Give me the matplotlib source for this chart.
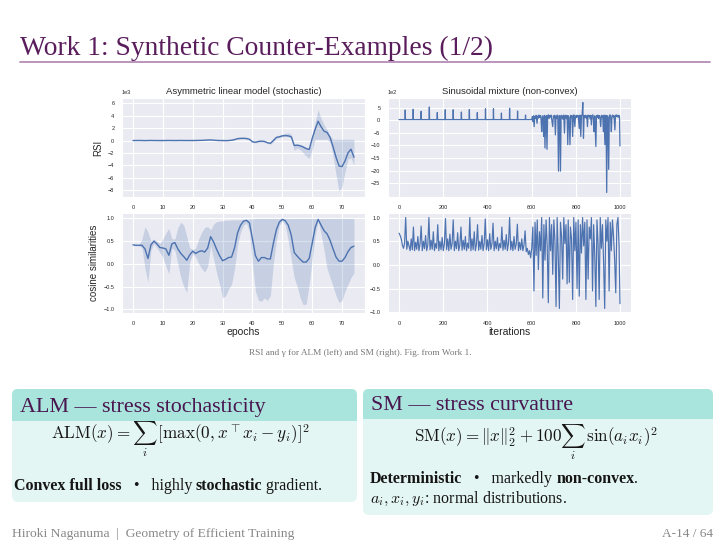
import numpy as np
import matplotlib
matplotlib.use("Agg")
import matplotlib.pyplot as plt
from matplotlib.patches import FancyBboxPatch, Rectangle
import seaborn as sns

# ---- values ----
epochs = list(range(75))

# ALM, RSI (units of 1e3)
rsi_mean = [0.00, 0.00, 0.01, 0.00, -0.01, 0.00, 0.01, 0.00, 0.00, -0.01,
            0.00, 0.00, 0.01, 0.00, 0.00, 0.00, 0.01, 0.00, 0.00, 0.00,
            0.00, 0.01, 0.02, 0.03, 0.05, 0.08, 0.10, 0.05, 0.02, 0.00,
            0.00, -0.02, 0.00, 0.05, 0.15, 0.30, 0.35, 0.36, 0.33, 0.20,
            -0.20, -0.28, -0.15, -0.10, -0.15, -0.35, -0.45, 0.00, 0.50, 0.60,
            0.75, 0.80, 0.75, 0.60, -0.80, -0.75, -0.85, -1.05, -1.30, -1.45,
            0.30, 1.80, 3.10, 2.20, 1.50, 1.30, 0.50, -1.00, -2.70, -4.10,
            -4.20, -3.30, -2.00, -1.40, -2.70]
rsi_upper = [0.05, 0.05, 0.06, 0.05, 0.04, 0.05, 0.06, 0.05, 0.05, 0.04,
             0.05, 0.05, 0.06, 0.05, 0.05, 0.05, 0.06, 0.05, 0.05, 0.05,
             0.05, 0.06, 0.07, 0.08, 0.10, 0.13, 0.16, 0.10, 0.07, 0.05,
             0.05, 0.04, 0.06, 0.12, 0.25, 0.42, 0.48, 0.48, 0.45, 0.30,
             -0.10, -0.18, -0.05, 0.00, -0.05, -0.25, -0.30, 0.20, 0.70, 0.85,
             1.00, 1.15, 1.25, 1.00, -0.60, -0.55, -0.65, -0.85, -1.10, -1.20,
             1.00, 3.00, 5.00, 3.50, 2.50, 1.80, 0.80, 0.20, 0.20, 0.20,
             0.20, 0.20, 0.20, 0.20, 0.20]
rsi_lower = [-0.05, -0.05, -0.04, -0.05, -0.06, -0.05, -0.04, -0.05, -0.05, -0.06,
             -0.05, -0.05, -0.04, -0.05, -0.05, -0.05, -0.04, -0.05, -0.05, -0.05,
             -0.05, -0.04, -0.03, -0.02, 0.00, 0.03, 0.04, 0.00, -0.03, -0.05,
             -0.05, -0.07, -0.05, 0.00, 0.08, 0.20, 0.25, 0.25, 0.22, 0.10,
             -0.30, -0.38, -0.25, -0.20, -0.25, -0.45, -0.60, -0.20, 0.35, 0.45,
             0.60, 0.65, 0.60, 0.40, -1.60, -1.20, -1.50, -2.00, -2.50, -2.90,
             -1.50, 0.20, 0.20, 0.20, 0.20, 0.20, -0.30, -2.50, -5.50, -8.20,
             -7.50, -5.00, -3.00, -2.80, -4.00]

# ALM, cosine similarities
cos_mean = [0.42, 0.41, 0.41, 0.41, 0.33, 0.12, 0.42, 0.50, 0.44, 0.36,
            0.35, 0.33, 0.19, 0.44, 0.47, 0.33, 0.23, 0.16, 0.08, 0.20,
            0.28, 0.23, 0.27, 0.29, 0.26, 0.35, 0.60, 0.48, 0.32, 0.18,
            0.07, 0.10, 0.14, 0.15, 0.35, 0.68, 0.85, 0.94, 0.96, 0.90,
            0.55, 0.18, 0.06, 0.14, 0.14, 0.11, 0.11, 0.45, 0.75, 0.92,
            0.98, 0.95, 0.85, 0.63, 0.25, 0.17, 0.10, 0.04, 0.04, 0.12,
            0.45, 0.80, 0.98, 0.85, 0.73, 0.66, 0.52, 0.33, 0.15, 0.06,
            0.06, 0.14, 0.27, 0.36, 0.39]
cos_upper = [0.43, 0.42, 0.42, 0.55, 0.82, 0.70, 0.50, 0.55, 0.50, 0.45,
             0.55, 0.68, 0.78, 0.55, 0.55, 0.80, 0.92, 0.85, 0.60, 0.35,
             0.32, 0.35, 0.55, 0.70, 0.80, 0.82, 0.75, 0.88, 0.93, 0.94,
             0.95, 0.96, 0.96, 0.97, 0.97, 0.97, 0.97, 0.98, 0.98, 0.99,
             0.99, 1.00, 1.00, 1.00, 1.00, 1.00, 1.00, 1.00, 1.00, 1.00,
             1.00, 1.00, 1.00, 1.00, 1.00, 1.00, 1.00, 1.00, 1.00, 1.00,
             1.00, 1.00, 1.00, 1.00, 1.00, 1.00, 1.00, 1.00, 1.00, 1.00,
             1.00, 1.00, 1.00, 1.00, 1.00]
cos_lower = [0.40, 0.40, 0.40, 0.35, -0.10, -0.40, 0.30, 0.45, 0.35, 0.25,
             0.15, -0.05, -0.22, 0.35, 0.30, 0.00, -0.30, -0.50, -0.63, 0.05,
             0.22, 0.15, 0.00, -0.10, -0.18, -0.05, 0.40, 0.10, -0.20, -0.45,
             -0.75, -0.70, -0.55, -0.45, -0.10, 0.40, 0.70, 0.85, 0.90, 0.70,
             0.00, -0.60, -0.80, -0.82, -0.75, -0.80, -0.70, 0.00, 0.50, 0.85,
             0.95, 0.85, 0.50, 0.10, -0.30, -0.50, -0.75, -0.90, -0.88, -0.45,
             0.10, 0.60, 0.95, 0.65, 0.30, -0.10, -0.30, -0.50, -0.70, -0.85,
             -0.80, -0.60, -0.45, -0.30, -0.20]

# SM, RSI (units of 1e2): flat part with periodic spikes, then noisy part
sm_base = 0.3
spike_iter = [28, 64, 100, 137, 173, 209, 245, 282, 318, 354, 391, 427, 463, 500, 536, 572]
spike_val = [4.1, 4.4, 3.6, 5.3, 3.1, 4.2, 4.2, 3.3, 4.3, 3.1, 4.6, 4.6, 2.9, 4.8, 3.7, 2.1]
noisy_iter = [600, 603, 606, 608, 611, 614, 617, 620, 624, 627, 630, 633, 636, 639, 642, 645,
              648, 651, 654, 657, 660, 663, 666, 669, 672, 675, 678, 681, 684, 687, 690, 695,
              698, 701, 704, 707, 710, 713, 716, 718, 721, 724, 727, 730, 733, 736, 739, 742,
              745, 748, 751, 754, 757, 760, 763, 766, 769, 773, 776, 779, 782, 785, 788, 791,
              795, 798, 801, 804, 807, 810, 815, 818, 822, 825, 828, 831, 834, 837, 840, 843,
              846, 849, 852, 855, 858, 861, 864, 867, 870, 873, 876, 879, 882, 885, 890, 893,
              896, 899, 902, 905, 908, 912, 915, 918, 921, 924, 927, 931, 934, 936, 939, 942,
              945, 948, 951, 954, 957, 960, 963, 966, 969, 972, 976, 979, 982, 985, 988, 991,
              994, 997, 999]
noisy_val = [0.3, 1.5, -0.5, 1.8, -2.5, 1.6, 0.8, 2.0, -1.2, 1.7, 0.9, 2.1, 1.2, 1.9, 0.5, -4.5,
             1.8, 1.0, -6.4, 2.0, -11.0, 1.5, 1.9, -11.5, 1.6, 2.2, 0.8, 1.9, 1.3, 2.1, 0.6, -2.5,
             1.8, 1.2, 2.0, -5.8, 1.7, 0.9, 2.1, 1.0, -20.2, 1.9, 1.5, -20.2, 2.0, 1.1, 1.8, 0.4,
             2.1, -5.1, 1.6, 2.0, 0.7, 1.9, -9.7, 1.8, 1.2, -9.7, 2.0, 1.4, 1.9, -6.4, 1.7, 2.2,
             -2.5, 1.8, 1.1, 2.0, 1.4, 1.9, -3.2, 2.1, -6.4, 1.7, 2.3, 7.1, -7.1, 1.9, 1.3, 2.0,
             0.9, 1.8, -2.5, 2.1, 1.5, 1.9, 0.6, 2.0, -1.8, 1.7, 2.2, 1.0, -4.5, 1.8, -10.4, 1.9,
             1.2, 2.1, 0.8, 1.9, 1.4, -2.5, 2.0, 1.3, 1.8, -4.5, 2.1, -9.7, 1.6, 2.0, -28.7, 1.8,
             1.1, -19.5, 1.9, 2.2, 1.0, -4.5, 1.8, 2.1, 1.3, 1.9, -3.8, 1.7, 2.2, 1.5, 2.0, 1.2,
             2.0, 1.5, -10.2]

# SM, cosine similarities, every 5 iterations (last point at 999)
sm_cos_iter = list(range(0, 1000, 5)) + [999]
sm_cos_val = [0.67, 0.62, 0.55, 0.42, 0.35, 0.45, 1.00, 0.33, 0.50, 0.40,
              0.30, 0.55, 0.32, 0.80, 0.30, 0.48, 0.33, 0.60, 0.30, 0.45,
              0.82, 0.30, 0.50, 0.34, 0.62, 0.30, 0.42, 1.00, 0.32, 0.52,
              0.33, 0.70, 0.30, 0.45, 0.35, 0.85, 0.30, 0.50, 0.32, 0.58,
              0.30, 0.44, 0.98, 0.32, 0.55, 0.30, 0.65, 0.33, 0.45, 0.95,
              0.30, 0.50, 0.34, 0.68, 0.30, 0.42, 0.80, 0.31, 0.52, 0.33,
              0.60, 0.30, 0.46, 0.35, 1.00, 0.30, 0.55, 0.32, 0.70, 0.30,
              0.44, 0.85, 0.31, 0.50, 0.33, 0.62, 0.30, 0.45, 0.97, 0.32,
              0.53, 0.30, 0.66, 0.33, 0.44, 0.88, 0.30, 0.50, 0.34, 0.58,
              0.30, 0.45, 0.36, 0.80, 0.31, 0.52, 0.33, 0.64, 0.30, 0.46,
              1.00, 0.32, 0.50, 0.30, 0.60, 0.33, 0.44, 0.86, 0.30, 0.48,
              0.32, 0.55, 0.30, 0.42, 0.72, 0.28, 0.35, 0.22, 0.30, 0.15,
              0.35, 0.80, -0.55, 0.90, 0.20, 0.95, -0.10, 0.70, 0.30, 1.00,
              -0.70, 0.85, 0.10, 0.95, 0.40, -0.80, 1.00, 0.30, 0.85, -0.20,
              0.95, 0.50, -0.88, 1.00, 0.20, -0.92, 0.90, 0.60, -0.30, 1.00,
              0.45, 0.85, -0.40, 0.95, -0.37, 0.80, 0.55, -0.73, 1.00, 0.30,
              0.90, -0.50, 0.95, -0.66, 0.85, 0.25, 1.00, 0.40, 0.90, -0.73,
              0.95, -0.30, 0.80, 0.55, 1.00, -0.55, 0.85, 0.20, -0.88, 0.95,
              0.45, -0.73, 1.00, 0.35, 0.85, 0.05, -0.92, 0.95, 0.50, 1.00,
              -0.55, 0.90, 0.30, 0.95, 0.60, 0.10, -0.59, 0.85, 1.00, 0.40,
              -0.82]

# build the SM RSI polyline from the flat part, spikes and noisy part
sm_rsi_iter = [0]
sm_rsi_val = [sm_base]
for p, h in zip(spike_iter, spike_val):
    sm_rsi_iter += [p - 1, p, p + 1]
    sm_rsi_val += [sm_base, h, sm_base]
sm_rsi_iter += noisy_iter
sm_rsi_val += noisy_val

# ---- style ----
sns.set_style("darkgrid")
plt.rcParams["font.family"] = ["Liberation Sans", "DejaVu Sans"]
plt.rcParams["mathtext.fontset"] = "cm"
SERIF = ["Liberation Serif", "DejaVu Serif"]
BLUE = "#4C72B0"
PURPLE = "#5a1d5c"

W, H = 726, 544
fig = plt.figure(figsize=(W / 100, H / 100), dpi=100)
fig.patch.set_facecolor("white")


def rect(x0, y0, x1, y1):
    return [x0 / W, 1 - y1 / H, (x1 - x0) / W, (y1 - y0) / H]


# slide background layer in pixel units
bg = fig.add_axes([0, 0, 1, 1], zorder=-1)
bg.set_xlim(0, W)
bg.set_ylim(H, 0)
bg.axis("off")

bg.text(20, 55, "Work 1: Synthetic Counter-Examples (1/2)", fontsize=19.8,
        color=PURPLE, family=SERIF, va="baseline")
bg.plot([20, 710], [62, 62], color="#b48cb8", lw=1.3)

# ---- the four panels ----
ax1 = fig.add_axes(rect(122, 98, 365, 197))
ax2 = fig.add_axes(rect(388, 98, 631, 197))
ax3 = fig.add_axes(rect(122, 213, 365, 313))
ax4 = fig.add_axes(rect(388, 213, 631, 313))

ax1.fill_between(epochs, np.array(rsi_lower) * 1e3, np.array(rsi_upper) * 1e3,
                 color=BLUE, alpha=0.22, lw=0)
ax1.plot(epochs, np.array(rsi_mean) * 1e3, color=BLUE, lw=1.0)
ax1.set_ylim(-9100, 6850)
ax1.set_yticks(np.arange(-8000, 6001, 2000))
ax1.set_title("Asymmetric linear model (stochastic)", fontsize=6.8, pad=3)
ax1.set_ylabel("RSI", fontsize=7, labelpad=3)
ax1.ticklabel_format(axis="y", style="sci", scilimits=(3, 3))

ax2.plot(sm_rsi_iter, np.array(sm_rsi_val) * 1e2, color=BLUE, lw=0.9)
ax2.set_yticks(np.arange(-2500, 501, 500))
ax2.set_title("Sinusoidal mixture (non-convex)", fontsize=6.8, pad=3)
ax2.ticklabel_format(axis="y", style="sci", scilimits=(2, 2))

ax3.fill_between(epochs, cos_lower, cos_upper, color=BLUE, alpha=0.22, lw=0)
ax3.plot(epochs, cos_mean, color=BLUE, lw=1.0)
ax3.set_ylim(-1.08, 1.12)
ax3.set_ylabel("cosine similarities", fontsize=7, labelpad=3)
ax3.set_xlabel("epochs", fontsize=7.5, labelpad=1)

ax4.plot(sm_cos_iter, sm_cos_val, color=BLUE, lw=0.85)
ax4.set_xlabel("iterations", fontsize=7.5, labelpad=1)

for ax in (ax1, ax3):
    ax.set_xticks(range(0, 71, 10))
for ax in (ax2, ax4):
    ax.set_xticks(range(0, 1001, 200))
for ax in (ax3, ax4):
    ax.set_yticks([-1.0, -0.5, 0.0, 0.5, 1.0])
for ax in (ax1, ax2, ax3, ax4):
    ax.tick_params(labelsize=4, pad=2)
    ax.yaxis.get_offset_text().set_fontsize(4)
    ax.grid(color="white", lw=0.8)

# ---- caption ----
bg.text(360, 355, "RSI and \u03b3 for ALM (left) and SM (right). Fig. from Work 1.",
        fontsize=6.7, family=SERIF, color="#777777", ha="center", va="baseline")

# ---- blocks ----
HEAD = "#a9e5dc"
BODY = "#e4f6f3"


def block(x0, x1, y0, yh, y1, title):
    bg.add_patch(FancyBboxPatch((x0, y0), x1 - x0, y1 - y0,
                                boxstyle="round,pad=0,rounding_size=6",
                                fc=BODY, ec="none"))
    bg.add_patch(FancyBboxPatch((x0, y0), x1 - x0, yh - y0,
                                boxstyle="round,pad=0,rounding_size=6",
                                fc=HEAD, ec="none"))
    bg.add_patch(Rectangle((x0, yh - 7), x1 - x0, 7, fc=HEAD, ec="none"))
    bg.text(x0 + 8, yh - 9, title, fontsize=15.8, family=SERIF, color="#4a1650",
            va="baseline")


def runs(x, y, parts, size=11.5):
    t = None
    for s, bold in parts:
        kw = dict(fontsize=size, family=SERIF, color="#151515",
                  fontweight="bold" if bold else "normal")
        if t is None:
            t = bg.text(x, y, s, va="baseline", **kw)
        else:
            t = bg.annotate(s, xy=(1, 0), xycoords=t, va="bottom", ha="left", **kw)


block(12, 357, 389, 421, 502, "ALM \u2014 stress stochasticity")
block(363, 713, 389, 419, 515, "SM \u2014 stress curvature")

bg.text(180, 439, r"$\mathrm{ALM}(x) = \sum_i\,[\max(0, x^\top x_i - y_i)]^2$",
        fontsize=12.3, ha="center", va="baseline", color="#151515")
runs(14, 490, [("Convex full loss", True), ("   \u2022   highly ", False),
               ("stochastic", True), (" gradient.", False)])

bg.text(536, 442, r"$\mathrm{SM}(x) = \|x\|_2^2 + 100\sum_i\,\sin(a_i x_i)^2$",
        fontsize=12.3, ha="center", va="baseline", color="#151515")
runs(370, 483, [("Deterministic", True), ("   \u2022   markedly ", False),
                ("non-convex", True), (".", False)])
bg.text(370, 503, r"$a_i, x_i, y_i$: normal distributions.", fontsize=11.5,
        family=SERIF, color="#151515", va="baseline")

# ---- footer ----
bg.text(12, 537, "Hiroki Naganuma  |  Geometry of Efficient Training", fontsize=9.7,
        family=SERIF, color="#888888", va="baseline")
bg.text(713, 537, "A-14 / 64", fontsize=9.5, family=SERIF, color="#888888",
        ha="right", va="baseline")

fig.savefig("out.png", dpi=100)
